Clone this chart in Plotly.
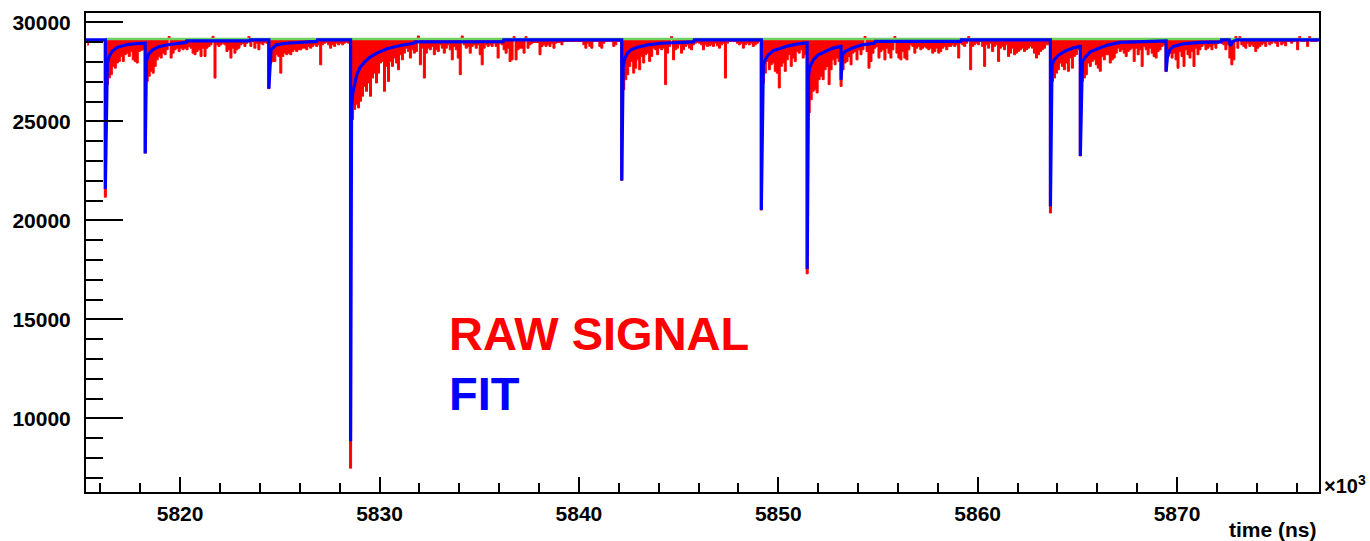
import numpy as np
import plotly.graph_objects as go

# ---------------- data ----------------
# raw signal: 0.1 us bins (x1000 ns), first bin centre at 5815.35
signal_t0 = 5815.35
signal_dt = 0.1
raw_signal = [
    28850, 29100, 29100, 29100, 29100, 29100, 29100, 29100, 29100, 21170,
    26860, 27200, 27360, 27780, 27690, 27950, 28030, 28280, 28030, 28370,
    28450, 28280, 28530, 28110, 28030, 27950, 28530, 28580, 28620, 23400,
    27020, 27280, 27530, 27440, 27780, 28110, 28280, 28200, 28450, 28370,
    28620, 29290, 28200, 28450, 28620, 28700, 28530, 28700, 28620, 28700,
    28620, 28790, 28700, 28450, 28370, 28530, 28620, 28280, 28700, 28280,
    28700, 28790, 28870, 29300, 27190, 28870, 28790, 28870, 28950, 28870,
    28530, 28620, 28200, 28700, 28450, 28620, 28700, 28870, 28950, 28790,
    28950, 29290, 28790, 29040, 28700, 28950, 28620, 28950, 28870, 28990,
    28950, 26650, 27950, 28030, 28030, 28370, 28280, 27440, 28280, 28450,
    28370, 28450, 28370, 28530, 28620, 28530, 28620, 28620, 28700, 28700,
    28620, 28790, 28700, 28790, 28870, 28790, 28870, 27860, 28870, 28950,
    28990, 28870, 28700, 28870, 28790, 28950, 28870, 28950, 28870, 28950,
    28990, 28950, 7480, 25100, 25600, 25850, 25680, 26020, 26270, 26770,
    26520, 26940, 26270, 27190, 27440, 26940, 27440, 27950, 28030, 26520,
    27780, 27020, 28030, 27780, 28200, 27950, 27610, 28370, 28110, 28450,
    28700, 28530, 28200, 28620, 28450, 28530, 29320, 27860, 28700, 27190,
    28450, 28700, 28620, 28790, 28370, 28620, 28530, 28870, 28700, 28450,
    28700, 28870, 28620, 28110, 28790, 28620, 28200, 27360, 29320, 28870,
    28700, 28790, 28450, 28790, 28870, 28700, 28870, 28370, 27860, 28700,
    28870, 28790, 28870, 28790, 28950, 28790, 28200, 28950, 28870, 28620,
    28450, 28700, 28030, 28110, 29290, 28110, 28620, 28700, 28700, 28450,
    29290, 28700, 28870, 28950, 28990, 28990, 28990, 28370, 28790, 28870,
    28790, 28870, 28790, 28950, 28700, 28950, 28990, 28990, 28870, 29040,
    29040, 29040, 29040, 29040, 29040, 29040, 29040, 29040, 29040, 28870,
    28700, 28950, 28790, 28700, 29040, 29040, 29040, 28790, 28700, 28950,
    29040, 29040, 29040, 29040, 28790, 28870, 29040, 29040, 22020, 26600,
    27110, 27360, 27780, 28030, 27440, 27690, 28110, 27610, 28280, 27950,
    28370, 28450, 28030, 28280, 28700, 28620, 28370, 28700, 28620, 28700,
    26860, 28450, 28790, 29290, 28110, 28620, 28700, 28870, 28450, 28620,
    28790, 28870, 28700, 28620, 28870, 28950, 28990, 28950, 28870, 28620,
    28870, 28790, 28820, 28870, 28790, 28950, 28820, 28700, 28870, 28950,
    27190, 28950, 29040, 29040, 29040, 29040, 28950, 28870, 28950, 28700,
    28870, 28950, 28870, 28950, 28790, 28870, 28950, 29040, 20520, 26940,
    27440, 28030, 27610, 27860, 27950, 27530, 27440, 26690, 27780, 27950,
    27530, 28110, 28370, 27780, 28200, 28030, 28530, 28450, 28620, 28200,
    28370, 17300, 25430, 26100, 26520, 26600, 26440, 27110, 27280, 27110,
    27610, 27780, 26860, 27610, 28110, 27860, 28200, 28030, 26770, 27610,
    27950, 28030, 28280, 27860, 28450, 28530, 28110, 28620, 28370, 28620,
    29290, 28530, 27690, 28030, 28450, 28700, 28790, 28200, 28530, 28620,
    28110, 28700, 28450, 28200, 28620, 29290, 28450, 28200, 28110, 28530,
    28200, 28110, 28620, 28870, 28790, 28450, 28700, 28790, 28620, 28700,
    28790, 28700, 28620, 28700, 28450, 28530, 28700, 28450, 28530, 28700,
    28790, 28620, 28790, 28790, 28870, 28790, 28870, 28200, 28950, 28870,
    28790, 28950, 29290, 27610, 28790, 28870, 28950, 28870, 29040, 28790,
    27780, 28870, 28700, 28950, 28530, 28790, 28870, 28030, 28700, 28790,
    28620, 28870, 28280, 28450, 28700, 28370, 28450, 28530, 28620, 28700,
    28530, 28620, 28700, 28790, 28700, 28450, 28200, 28370, 28530, 28620,
    28700, 28870, 28870, 20370, 27020, 27190, 27440, 27610, 27950, 27780,
    27610, 27950, 27530, 28200, 27690, 28280, 28370, 28620, 23250, 27020,
    27190, 27360, 27950, 27780, 28030, 28110, 27860, 27690, 27530, 28280,
    28110, 28370, 28370, 27950, 28110, 28200, 28450, 28700, 28530, 28620,
    28450, 28280, 28530, 28620, 28700, 28030, 28700, 28370, 28620, 27780,
    28790, 28620, 28370, 28700, 28450, 28280, 28200, 28530, 28620, 28790,
    28870, 27520, 28280, 28450, 28200, 28450, 28110, 27690, 28530, 28280,
    27780, 28620, 28370, 28200, 28530, 27780, 28700, 28370, 28620, 28790,
    28870, 28620, 28700, 28790, 28620, 28870, 28700, 28950, 28990, 28950,
    28870, 28620, 28870, 28200, 27860, 28110, 29290, 28700, 29290, 28870,
    28790, 28700, 28950, 28790, 28870, 28790, 28530, 28700, 28790, 28870,
    28950, 28790, 29040, 28870, 28950, 29040, 28950, 28790, 29040, 28870,
    28950, 28820, 29040, 29040, 28950, 29040, 29040, 28620, 29290, 29040,
    29040, 29040, 28790, 29290, 29040, 29040, 29040, 29040,
]
signal_reference = 29160  # level the raw-signal fill hangs from

# fit curve (time in 10^3 ns, ADC value)
fit_time = [
    5815.28,
    5816.25, 5816.25, 5816.35, 5816.45, 5816.62, 5816.87, 5817.20, 5817.62, 5818.16,
    5818.25, 5818.25, 5818.31, 5818.43, 5818.63, 5818.96, 5819.46, 5820.30, 5820.33, 5823.48, 5823.51,
    5824.45, 5824.45, 5824.56, 5824.82, 5825.32, 5826.85, 5826.89,
    5828.55, 5828.55, 5828.60, 5828.66, 5828.78, 5828.86, 5829.03, 5829.28, 5829.53, 5829.87,
    5830.37, 5831.04, 5831.71, 5831.79, 5836.20, 5836.23,
    5842.15, 5842.15, 5842.22, 5842.31, 5842.44, 5842.61, 5842.94, 5843.45, 5844.11, 5845.12,
    5845.75, 5845.79,
    5849.15, 5849.15, 5849.25, 5849.34, 5849.50, 5849.75, 5850.09, 5850.51, 5851.01, 5851.39,
    5851.45, 5851.45, 5851.52, 5851.59, 5851.76, 5852.01, 5852.35, 5852.68, 5853.10,
    5853.15, 5853.15, 5853.22, 5853.35, 5853.69, 5854.19, 5854.82, 5854.86, 5859.15, 5859.18,
    5863.65, 5863.65, 5863.73, 5863.83, 5864.08, 5864.42, 5864.75, 5865.12,
    5865.15, 5865.15, 5865.25, 5865.42, 5865.67, 5866.09, 5866.56, 5867.13, 5868.13, 5869.40,
    5869.45, 5869.45, 5869.52, 5869.64, 5869.81, 5870.31, 5871.14, 5872.20, 5872.23, 5872.62,
    5872.68, 5872.78, 5872.98,
    5877.12,
]
fit_value = [
    29120,
    29120, 21590, 27950, 28315, 28580, 28750, 28850, 28920, 28950,
    28950, 23380, 28030, 28415, 28620, 28790, 28885, 28990, 29070, 29070, 29120,
    29120, 26650, 28620, 28870, 28950, 29040, 29120,
    29120, 8840, 25680, 26440, 26940, 27360, 27745, 28030, 28250, 28450,
    28670, 28835, 28950, 29020, 29030, 29120,
    29120, 22020, 27780, 28200, 28450, 28620, 28750, 28870, 28950, 29000,
    29020, 29120,
    29120, 20520, 27860, 28110, 28370, 28570, 28700, 28820, 28920, 28970,
    28970, 17550, 27360, 27780, 28110, 28370, 28530, 28680, 28790,
    28790, 27100, 28370, 28530, 28700, 28870, 28950, 29040, 29040, 29120,
    29120, 20720, 27860, 28110, 28370, 28570, 28700, 28790,
    28790, 23250, 28030, 28280, 28530, 28700, 28870, 28990, 29040, 29070,
    29070, 27520, 28280, 28620, 28790, 28920, 28990, 29020, 29120, 29120,
    28820, 29020, 29120,
    29120,
]

baseline_level = 29160
baseline_start = 5816.25
baseline_end = 5877.12

x_range = [5815.28, 5877.12]
y_range = [6277, 30478]

FONT = "Liberation Sans"

# ---------------- figure ----------------
fig = go.Figure()

sig_t = signal_t0 + signal_dt * np.arange(len(raw_signal))

# invisible reference level for the raw-signal fill
fig.add_trace(go.Scatter(
    x=sig_t, y=np.full(len(raw_signal), signal_reference, dtype=float),
    mode="lines", line=dict(width=0, color="rgba(0,0,0,0)"),
    showlegend=False, hoverinfo="skip",
))
fig.add_trace(go.Scatter(
    x=sig_t, y=raw_signal, mode="lines",
    line=dict(color="#ff0000", width=1, shape="hvh"),
    fill="tonexty", fillcolor="#ff0000",
    showlegend=False, hoverinfo="skip",
))

fig.add_trace(go.Scatter(
    x=[baseline_start, baseline_end], y=[baseline_level, baseline_level],
    mode="lines", line=dict(color="#6fd060", width=2.5),
    showlegend=False, hoverinfo="skip",
))

fig.add_trace(go.Scatter(
    x=fit_time, y=fit_value, mode="lines",
    line=dict(color="#0000ff", width=3.2),
    showlegend=False, hoverinfo="skip",
))

axis_common = dict(
    showline=True, linecolor="black", linewidth=2, mirror=True,
    ticks="inside", tickcolor="black", tickwidth=2,
    showgrid=False, zeroline=False,
    tickfont=dict(family=FONT, size=21, color="black", weight="bold"),
)

fig.update_xaxes(
    range=x_range, dtick=10, tick0=5820, ticklen=15,
    minor=dict(dtick=2, tick0=5820, ticklen=9, ticks="inside", tickwidth=2,
               tickcolor="black", showgrid=False),
    tickformat="d",
    ticklabelstandoff=2,
    **axis_common,
)
fig.update_yaxes(
    range=y_range, dtick=5000, tick0=0, ticklen=37,
    minor=dict(dtick=1000, tick0=0, ticklen=17, ticks="inside", tickwidth=2,
               tickcolor="black", showgrid=False),
    tickformat="d",
    ticklabelstandoff=9,
    **axis_common,
)

fig.add_annotation(xref="paper", yref="paper", x=0.2925, y=0.3306,
                   xanchor="left", yanchor="middle", showarrow=False,
                   text="RAW SIGNAL",
                   font=dict(family=FONT, size=47, color="#ff0000", weight="bold"))
fig.add_annotation(xref="paper", yref="paper", x=0.2925, y=0.2058,
                   xanchor="left", yanchor="middle", showarrow=False,
                   text="FIT",
                   font=dict(family=FONT, size=47, color="#0000ff", weight="bold"))
fig.add_annotation(xref="paper", yref="paper", x=1.0, y=-0.079,
                   xanchor="right", yanchor="middle", showarrow=False,
                   text="time (ns)",
                   font=dict(family=FONT, size=21, color="black", weight="bold"))
fig.add_annotation(xref="paper", yref="paper", x=1.0024, y=0.0166,
                   xanchor="left", yanchor="middle", showarrow=False,
                   text="×10<sup>3</sup>",
                   font=dict(family=FONT, size=20, color="black", weight="bold"))

fig.update_layout(
    width=1370, height=541, autosize=False,
    margin=dict(l=86, r=51, t=11, b=49, pad=0),
    paper_bgcolor="white", plot_bgcolor="white",
    showlegend=False,
)

fig.write_html("out.html")
